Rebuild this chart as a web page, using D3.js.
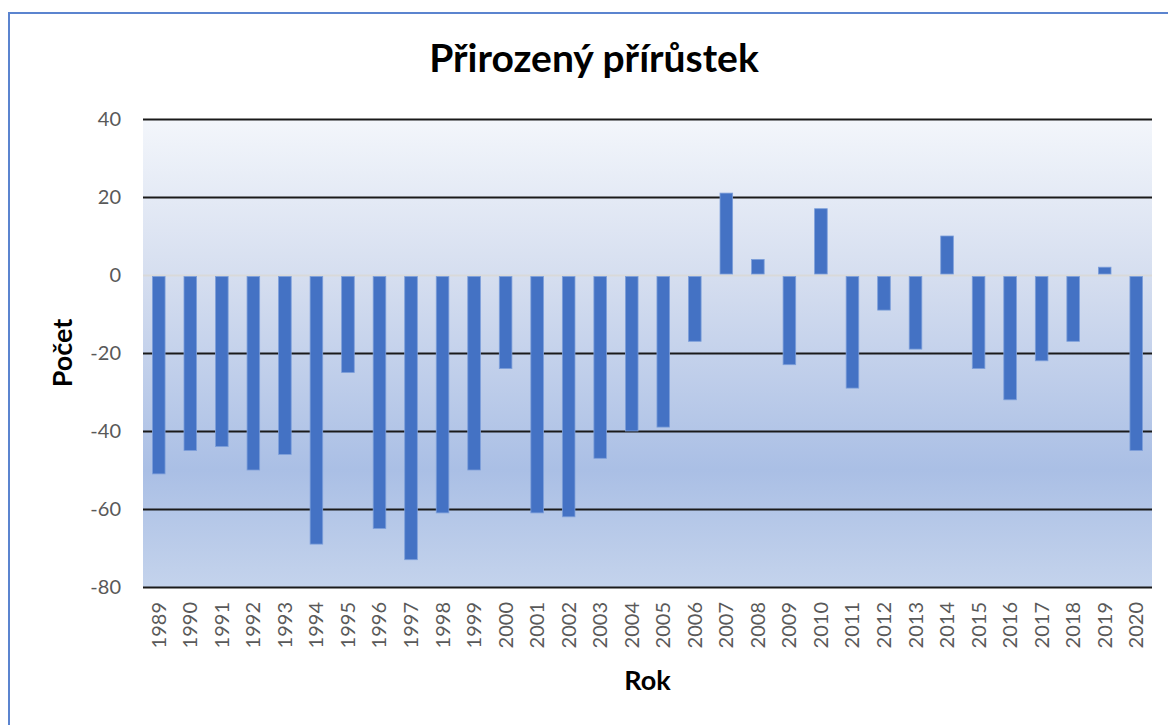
<!DOCTYPE html>
<html><head><meta charset="utf-8">
<script src="https://cdn.jsdelivr.net/npm/d3@7"></script>
<style>body{margin:0;background:#fff}svg{display:block}</style>
</head><body>
<svg id="c" width="1168" height="725"></svg>
<script>
const years = ["1989","1990","1991","1992","1993","1994","1995","1996","1997","1998","1999","2000","2001","2002","2003","2004","2005","2006","2007","2008","2009","2010","2011","2012","2013","2014","2015","2016","2017","2018","2019","2020"];
const values = [-51,-45,-44,-50,-46,-69,-25,-65,-73,-61,-50,-24,-61,-62,-47,-40,-39,-17,21,4,-23,17,-29,-9,-19,10,-24,-32,-22,-17,2,-45];
const yTicks = [-80,-60,-40,-20,0,20,40];
const title = "Přirozený přírůstek";
const xTitle = "Rok";
const yTitle = "Počet";

const svg = d3.select("#c");
const font = "Lato, 'Open Sans', sans-serif";
const m = {left:143, right:1152, top:119, bottom:587};

// outer border
svg.append("rect").attr("x",9).attr("y",13).attr("width",1200).attr("height",800)
  .attr("fill","#fff").attr("stroke","#5b84cf").attr("stroke-width",2);

const defs = svg.append("defs");
const g = defs.append("linearGradient").attr("id","bg").attr("x1",0).attr("y1",0).attr("x2",0).attr("y2",1);
[[0,"#f3f6fb"],[0.35,"#d4ddef"],[0.75,"#aabfe5"],[1,"#c4d3ec"]].forEach(([o,c])=>g.append("stop").attr("offset",o).attr("stop-color",c));

const x = d3.scaleBand().domain(years).range([m.left,m.right]).paddingInner(0.6).paddingOuter(0.3);
const y = d3.scaleLinear().domain([-80,40]).range([m.bottom,m.top]);

svg.append("rect").attr("x",m.left).attr("y",m.top).attr("width",m.right-m.left).attr("height",m.bottom-m.top).attr("fill","url(#bg)");

// gridlines
const grid = svg.append("g").attr("transform",`translate(${m.left},0)`)
  .call(d3.axisLeft(y).tickValues(yTicks).tickSize(-(m.right-m.left)).tickFormat(""));
grid.select(".domain").remove();
grid.selectAll(".tick line").attr("stroke",d=>d===0?"#d9d9d9":"#1a1a1a").attr("stroke-width",2);

// bars
svg.append("g").selectAll("rect").data(values).join("rect")
  .attr("x",(d,i)=>x(years[i]))
  .attr("width",x.bandwidth())
  .attr("y",d=>d>=0?y(d):y(0)+1.5)
  .attr("height",d=>Math.max(0,Math.abs(y(d)-y(0))-(d>=0?1:1.5)))
  .attr("fill","#4472c4").attr("stroke","#7d9fda").attr("stroke-width",0.8);

// y axis labels
const ya = svg.append("g").attr("transform",`translate(${m.left},0)`)
  .call(d3.axisLeft(y).tickValues(yTicks).tickSize(0).tickPadding(22).tickFormat(d=>String(d)));
ya.select(".domain").remove();
ya.selectAll("text").attr("font-family",font).attr("font-size",20).attr("fill","#595959");

// x axis labels
const xa = svg.append("g").attr("transform",`translate(0,${m.bottom})`)
  .call(d3.axisBottom(x).tickSize(0));
xa.select(".domain").remove();
xa.selectAll("text").attr("font-family",font).attr("font-size",20).attr("fill","#595959")
  .attr("transform","rotate(-90)").attr("text-anchor","end")
  .attr("x",-15).attr("y",0).attr("dy","0.35em");

svg.append("text").attr("x",594).attr("y",72).attr("text-anchor","middle")
  .attr("font-family",font).attr("font-weight","bold").attr("font-size",39).attr("fill","#000").text(title);
svg.append("text").attr("x",(m.left+m.right)/2).attr("y",690).attr("text-anchor","middle")
  .attr("font-family",font).attr("font-weight","bold").attr("font-size",27).attr("fill","#000").text(xTitle);
svg.append("text").attr("transform",`translate(72,${(m.top+m.bottom)/2}) rotate(-90)`).attr("text-anchor","middle")
  .attr("font-family",font).attr("font-weight","bold").attr("font-size",27).attr("fill","#000").text(yTitle);
</script>
</body></html>
